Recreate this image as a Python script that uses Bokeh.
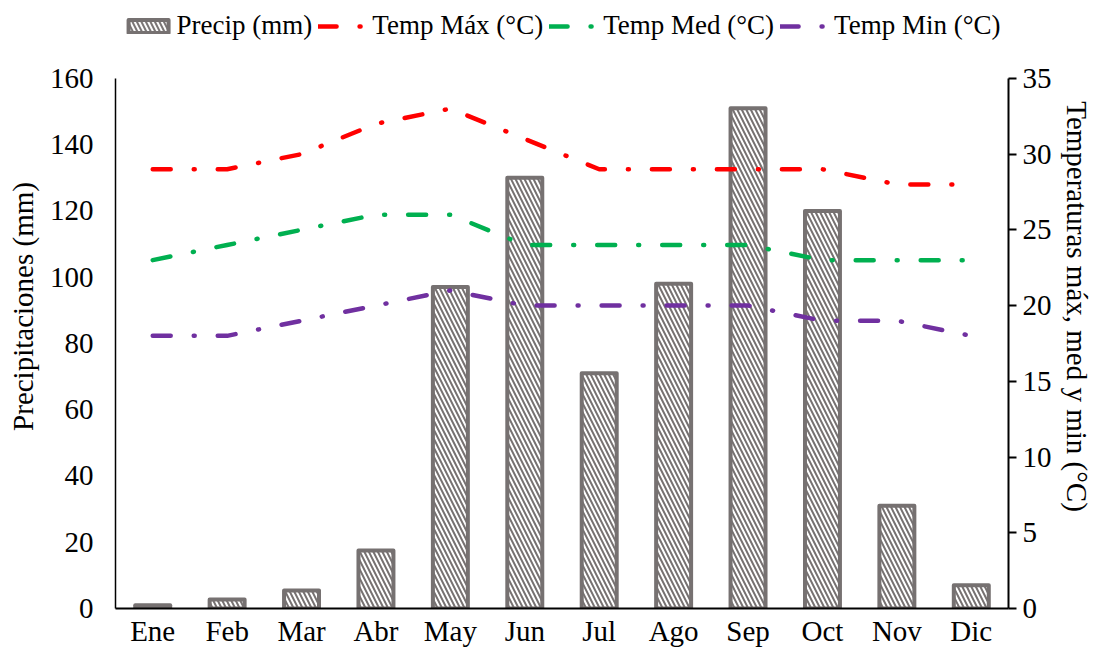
from bokeh.plotting import figure
from bokeh.models import Range1d, LinearAxis, Legend, LegendItem, FactorRange, FixedTicker
from bokeh.embed import file_html
from bokeh.resources import INLINE

months = ["Ene", "Feb", "Mar", "Abr", "May", "Jun", "Jul", "Ago", "Sep", "Oct", "Nov", "Dic"]
precip = [1.0, 2.7, 5.4, 17.5, 97.0, 130.0, 71.0, 98.0, 151.0, 120.0, 31.0, 7.0]
tmax = [29, 29, 30, 32, 33, 31, 29, 29, 29, 29, 28, 28]
tmed = [23, 24, 25, 26, 26, 24, 24, 24, 24, 23, 23, 23]
tmin = [18, 18, 19, 20, 21, 20, 20, 20, 20, 19, 19, 18]
left_ticks = [0, 20, 40, 60, 80, 100, 120, 140, 160]
right_ticks = [0, 5, 10, 15, 20, 25, 30, 35]
series_labels = ["Precip (mm)", "Temp Máx (°C)", "Temp Med (°C)", "Temp Min (°C)"]

FONT = "Liberation Serif"
GRAY = "#767171"
COLORS = ["#FF0000", "#00B050", "#7030A0"]
FS = "29px"
DASH = "18 23 1 23"

# axis limits; the frame is extended upward (headroom) to hold the legend
P_MAX, T_MAX = 160, 35
HEADROOM = 74 / 531  # fraction of the axis length above the top tick

p = figure(x_range=FactorRange(factors=months),
           y_range=Range1d(0, P_MAX * (1 + HEADROOM)),
           width=1095, height=649, output_backend="svg", toolbar_location=None,
           min_border_left=115, min_border_right=83, min_border_top=4, min_border_bottom=40)
p.extra_y_ranges = {"t": Range1d(0, T_MAX * (1 + HEADROOM))}
p.outline_line_color = None
p.xgrid.grid_line_color = None
p.ygrid.grid_line_color = None

bars = p.vbar(x=months, top=precip, width=0.47, fill_color="white",
              line_color=GRAY, line_width=4, line_join="round",
              hatch_pattern="left_diagonal_line", hatch_color=GRAY,
              hatch_scale=9, hatch_weight=2)
lines = [p.line(months, vals, y_range_name="t", line_color=col, line_width=4.5,
                line_dash=DASH, line_cap="round")
         for vals, col in zip([tmax, tmed, tmin], COLORS)]

ya = p.yaxis[0]
ya.ticker = FixedTicker(ticks=left_ticks)
ya.bounds = (0, P_MAX)
ya.major_tick_out = 0
ya.major_tick_in = 0
ya.minor_tick_line_color = None
ya.axis_line_color = "black"
ya.axis_line_width = 1.5
ya.major_label_standoff = 22
ya.major_label_text_font = FONT
ya.major_label_text_font_size = FS
ya.major_label_text_color = "black"
ya.axis_label = "Precipitaciones (mm)"
ya.axis_label_text_font = FONT
ya.axis_label_text_font_size = FS
ya.axis_label_text_color = "black"
ya.axis_label_text_font_style = "normal"
ya.axis_label_standoff = 8

ra = LinearAxis(y_range_name="t", ticker=FixedTicker(ticks=right_ticks), bounds=(0, T_MAX))
ra.major_tick_out = 8
ra.major_tick_in = 0
ra.major_tick_line_width = 2
ra.minor_tick_line_color = None
ra.axis_line_color = "black"
ra.axis_line_width = 2
ra.major_label_standoff = 6
ra.major_label_text_font = FONT
ra.major_label_text_font_size = FS
ra.major_label_text_color = "black"
ra.axis_label = "Temperaturas máx, med y min (°C)"
ra.axis_label_text_font = FONT
ra.axis_label_text_font_size = FS
ra.axis_label_text_color = "black"
ra.axis_label_text_font_style = "normal"
ra.axis_label_standoff = 6
p.add_layout(ra, "right")

xa = p.xaxis[0]
xa.major_tick_out = 0
xa.major_tick_in = 0
xa.axis_line_color = "black"
xa.axis_line_width = 2
xa.major_label_standoff = 6
xa.major_label_text_font = FONT
xa.major_label_text_font_size = FS
xa.major_label_text_color = "black"

legend = Legend(items=[LegendItem(label=lab, renderers=[r])
                       for lab, r in zip(series_labels, [bars] + lines)],
                orientation="horizontal", location="top_center")
legend.label_text_font = FONT
legend.label_text_font_size = "27px"
legend.label_text_color = "black"
legend.glyph_width = 50
legend.glyph_height = 16
legend.label_standoff = 4
legend.spacing = 6
legend.padding = 0
legend.margin = 6
legend.background_fill_alpha = 0
legend.border_line_alpha = 0
p.add_layout(legend, "center")

open("out.html", "w").write(file_html(p, INLINE))
